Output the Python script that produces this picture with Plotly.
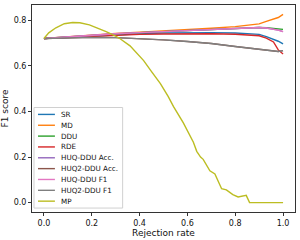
import plotly.graph_objects as go

# ---- data ----
rejection = [0.0, 0.1, 0.2, 0.3, 0.4, 0.5, 0.6, 0.7, 0.8, 0.85, 0.9, 0.93, 0.96, 0.98, 1.0]
sr = [0.72, 0.726, 0.732, 0.737, 0.741, 0.744, 0.746, 0.746, 0.744, 0.742, 0.738, 0.728, 0.718, 0.708, 0.696]
md = [0.72, 0.728, 0.735, 0.742, 0.748, 0.753, 0.759, 0.765, 0.772, 0.777, 0.784, 0.795, 0.805, 0.812, 0.826]
ddu = [0.72, 0.727, 0.734, 0.740, 0.745, 0.750, 0.755, 0.760, 0.764, 0.766, 0.768, 0.767, 0.765, 0.763, 0.760]
rde = [0.72, 0.725, 0.730, 0.735, 0.738, 0.740, 0.741, 0.741, 0.739, 0.736, 0.732, 0.722, 0.705, 0.670, 0.652]
huq_ddu_acc = [0.72, 0.728, 0.734, 0.741, 0.746, 0.751, 0.756, 0.761, 0.765, 0.767, 0.768, 0.766, 0.762, 0.757, 0.750]
huq2_ddu_acc = [0.72, 0.724, 0.725, 0.724, 0.720, 0.714, 0.707, 0.698, 0.685, 0.679, 0.672, 0.667, 0.664, 0.663, 0.667]
huq_ddu_f1 = [0.72, 0.728, 0.734, 0.741, 0.746, 0.751, 0.756, 0.761, 0.765, 0.767, 0.768, 0.766, 0.762, 0.757, 0.750]
huq2_ddu_f1 = [0.72, 0.724, 0.725, 0.724, 0.720, 0.714, 0.707, 0.698, 0.685, 0.679, 0.672, 0.667, 0.664, 0.663, 0.667]

mp_x = [0.0, 0.02, 0.05, 0.085, 0.12, 0.15, 0.19, 0.224, 0.26, 0.3, 0.32, 0.36, 0.4, 0.417,
        0.45, 0.487, 0.52, 0.542, 0.583, 0.611, 0.625, 0.639, 0.655, 0.666, 0.694, 0.715,
        0.73, 0.743, 0.763, 0.79, 0.812, 0.83, 0.846, 0.86, 1.0]
mp_y = [0.72, 0.745, 0.767, 0.785, 0.79, 0.789, 0.78, 0.767, 0.75, 0.73, 0.718, 0.688, 0.645, 0.623,
        0.575, 0.522, 0.465, 0.421, 0.35, 0.29, 0.265, 0.225, 0.2, 0.19, 0.14, 0.126,
        0.09, 0.061, 0.056, 0.035, 0.025, 0.03, 0.032, 0.0, 0.0]

names = ["SR", "MD", "DDU", "RDE", "HUQ-DDU Acc.", "HUQ2-DDU Acc.", "HUQ-DDU F1", "HUQ2-DDU F1", "MP"]
colors = ["#1f77b4", "#ff7f0e", "#2ca02c", "#d62728", "#9467bd", "#8c564b", "#e377c2", "#7f7f7f", "#bcbd22"]
series = [sr, md, ddu, rde, huq_ddu_acc, huq2_ddu_acc, huq_ddu_f1, huq2_ddu_f1]

x_ticks = [0.0, 0.2, 0.4, 0.6, 0.8, 1.0]
y_ticks = [0.0, 0.2, 0.4, 0.6, 0.8]

fig = go.Figure()
for name, col, ys in zip(names[:8], colors[:8], series):
    fig.add_trace(go.Scatter(x=rejection, y=ys, mode="lines", name=name,
                             line=dict(color=col, width=1.4), showlegend=False))
fig.add_trace(go.Scatter(x=mp_x, y=mp_y, mode="lines", name=names[8],
                         line=dict(color=colors[8], width=1.4), showlegend=False))

W, H = 300, 240
L, R, T, B = 31, 5, 4, 26
pw, ph = W - L - R, H - T - B


def px(x):
    return (x - L) / pw


def py(y):
    return (H - B - y) / ph


# manual legend (compact like matplotlib)
shapes = [dict(type="rect", xref="paper", yref="paper", x0=px(33), x1=px(122), y0=py(210), y1=py(108),
               line=dict(color="#d0d0d0", width=1), fillcolor="rgba(255,255,255,0.8)", layer="above")]
annotations = []
for i, (name, col) in enumerate(zip(names, colors)):
    yy = 115 + i * 11
    shapes.append(dict(type="line", xref="paper", yref="paper", x0=px(37), x1=px(54), y0=py(yy), y1=py(yy),
                       line=dict(color=col, width=1.4), layer="above"))
    annotations.append(dict(xref="paper", yref="paper", x=px(58), y=py(yy), text=name, showarrow=False,
                            xanchor="left", yanchor="middle", font=dict(size=7.2, color="#111")))

fig.update_layout(
    width=W, height=H, margin=dict(l=L, r=R, t=T, b=B),
    paper_bgcolor="white", plot_bgcolor="white",
    font=dict(family="DejaVu Sans", size=8, color="#111"),
    shapes=shapes, annotations=annotations, showlegend=False,
)
fig.update_xaxes(range=[-0.05, 1.05], tickvals=x_ticks, tickformat=".1f", showgrid=False, zeroline=False,
                 showline=True, mirror=True, linecolor="#333", linewidth=1, ticks="outside", ticklen=3,
                 tickcolor="#333", title=dict(text="Rejection rate", font=dict(size=9), standoff=2))
fig.update_yaxes(range=[-0.041, 0.867], tickvals=y_ticks, tickformat=".1f", showgrid=False, zeroline=False,
                 showline=True, mirror=True, linecolor="#333", linewidth=1, ticks="outside", ticklen=3,
                 tickcolor="#333", title=dict(text="F1 score", font=dict(size=9), standoff=3))

fig.write_html("out.html", config={"displayModeBar": False},
               post_script="document.body.style.margin='0';document.body.style.overflow='hidden';")
